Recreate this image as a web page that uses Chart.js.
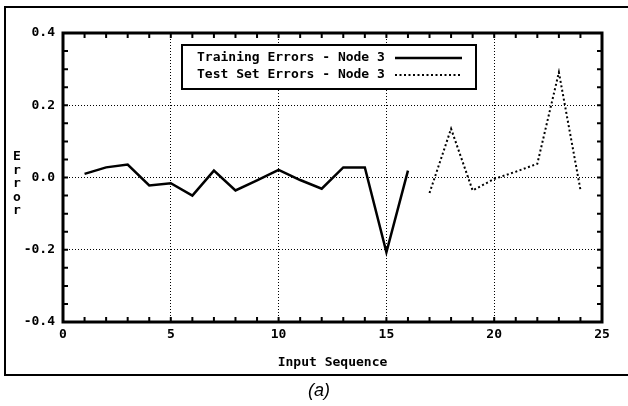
<!DOCTYPE html>
<html>
<head>
<meta charset="utf-8">
<script src="https://cdn.jsdelivr.net/npm/chart.js@4.4.0/dist/chart.umd.min.js"></script>
<style>
  html, body { margin: 0; padding: 0; background: #fff; }
  canvas { display: block; }
</style>
</head>
<body>
<canvas id="myChart" width="628" height="406"></canvas>
<script>
// values
const trainSeq = [1, 2, 3, 4, 5, 6, 7, 8, 9, 10, 11, 12, 13, 14, 15, 16];
const trainErrors = [0.010, 0.028, 0.036, -0.022, -0.016, -0.050, 0.019, -0.036, -0.008, 0.021, -0.007, -0.031, 0.028, 0.028, -0.207, 0.019];
const testSeq = [17, 18, 19, 20, 21, 22, 23, 24];
const testErrors = [-0.043, 0.135, -0.036, -0.004, 0.016, 0.038, 0.291, -0.034];
const xTickLabels = ['0', '5', '10', '15', '20', '25'];
const yTickLabels = ['-0.4', '-0.2', '0.0', '0.2', '0.4'];

const monoFont = { family: 'DejaVu Sans Mono', size: 13, weight: 'bold' };

function toPoints(xs, ys) {
    var pts = [];
    for (var i = 0; i < xs.length; i++) {
        pts.push({ x: xs[i], y: ys[i] });
    }
    return pts;
}

function yIndex(v) {
    var h = Math.round(v * 100);
    if (h % 20 !== 0) return -1;
    return (h + 40) / 20;
}

// white page, outer frame, "(a)" caption, stacked y title
const pagePlugin = {
    id: 'page',
    beforeDraw(chart) {
        var ctx = chart.ctx;
        ctx.save();
        ctx.fillStyle = '#fff';
        ctx.fillRect(0, 0, chart.width, chart.height);
        ctx.restore();
    },
    afterDraw(chart) {
        var ctx = chart.ctx;
        var area = chart.chartArea;
        ctx.save();
        ctx.strokeStyle = '#000';
        ctx.lineWidth = 2;
        ctx.strokeRect(5, 7, 640, 368);

        ctx.lineWidth = 3;
        ctx.strokeRect(area.left, area.top, area.right - area.left, area.bottom - area.top);

        // inward tick marks on all four sides
        ctx.lineWidth = 2;
        ctx.beginPath();
        chart.scales.x.ticks.forEach(function (t) {
            var px = chart.scales.x.getPixelForValue(t.value);
            ctx.moveTo(px, area.bottom);
            ctx.lineTo(px, area.bottom - 5);
            ctx.moveTo(px, area.top);
            ctx.lineTo(px, area.top + 5);
        });
        chart.scales.y.ticks.forEach(function (t) {
            var py = chart.scales.y.getPixelForValue(t.value);
            ctx.moveTo(area.left, py);
            ctx.lineTo(area.left + 5, py);
            ctx.moveTo(area.right, py);
            ctx.lineTo(area.right - 5, py);
        });
        ctx.stroke();

        // y title, letters stacked
        ctx.fillStyle = '#000';
        ctx.font = 'bold 13px "DejaVu Sans Mono"';
        ctx.textAlign = 'center';
        ctx.textBaseline = 'middle';
        var title = 'Error';
        for (var i = 0; i < title.length; i++) {
            ctx.fillText(title[i], 17, 157 + i * 13.5);
        }

        // legend box
        var bx = 182, by = 45, bw = 294, bh = 44;
        ctx.fillStyle = '#fff';
        ctx.fillRect(bx, by, bw, bh);
        ctx.lineWidth = 2;
        ctx.strokeRect(bx, by, bw, bh);
        ctx.textAlign = 'left';
        chart.data.datasets.forEach(function (ds, k) {
            var ly = 58 + k * 17;
            ctx.fillStyle = '#000';
            ctx.fillText(ds.label, 197, ly);
            ctx.beginPath();
            ctx.lineWidth = ds.borderWidth;
            ctx.setLineDash(ds.borderDash || []);
            ctx.moveTo(395, ly);
            ctx.lineTo(462, ly);
            ctx.stroke();
            ctx.setLineDash([]);
        });

        // caption
        ctx.font = 'italic 18px "Liberation Sans"';
        ctx.textAlign = 'center';
        ctx.fillText('(a)', 319, 391);
        ctx.restore();
    }
};

var ctx = document.getElementById('myChart').getContext('2d');
var myChart = new Chart(ctx, {
    type: 'line',
    data: {
        datasets: [{
            label: 'Training Errors - Node 3',
            data: toPoints(trainSeq, trainErrors),
            borderColor: '#000',
            borderWidth: 2.5,
            pointRadius: 0,
            tension: 0,
            fill: false
        }, {
            label: 'Test Set Errors - Node 3',
            data: toPoints(testSeq, testErrors),
            borderColor: '#000',
            borderWidth: 2,
            borderDash: [2, 2.5],
            pointRadius: 0,
            tension: 0,
            fill: false
        }]
    },
    options: {
        responsive: false,
        animation: false,
        layout: { padding: { left: 0, top: 33, right: 26, bottom: 36 } },
        plugins: {
            legend: { display: false },
            tooltip: { enabled: false }
        },
        scales: {
            x: {
                type: 'linear',
                position: 'bottom',
                min: 0,
                max: 25,
                afterFit: function (scale) { scale.height = 48; },
                ticks: {
                    stepSize: 1,
                    autoSkip: false,
                    maxRotation: 0,
                    padding: 5,
                    color: '#000',
                    font: monoFont,
                    callback: function (v) {
                        return v % 5 === 0 ? xTickLabels[v / 5] : '';
                    }
                },
                grid: {
                    drawTicks: false,
                    lineWidth: 1,
                    color: function (c) {
                        var v = c.tick ? c.tick.value : 0;
                        return (v % 5 === 0 && v > 0 && v < 25) ? '#000' : 'rgba(0,0,0,0)';
                    }
                },
                border: { display: false, dash: [1, 2] },
                title: {
                    display: true,
                    text: 'Input Sequence',
                    color: '#000',
                    font: monoFont,
                    padding: 0
                }
            },
            y: {
                type: 'linear',
                position: 'left',
                min: -0.4,
                max: 0.4,
                afterFit: function (scale) { scale.width = 63; },
                ticks: {
                    stepSize: 0.05,
                    autoSkip: false,
                    padding: 8,
                    color: '#000',
                    font: monoFont,
                    callback: function (v) {
                        var i = yIndex(v);
                        return i >= 0 ? yTickLabels[i] : '';
                    }
                },
                grid: {
                    drawTicks: false,
                    lineWidth: 1,
                    color: function (c) {
                        var v = c.tick ? c.tick.value : 0;
                        var i = yIndex(v);
                        return (i > 0 && i < 4) ? '#000' : 'rgba(0,0,0,0)';
                    }
                },
                border: { display: false, dash: [1, 2] }
            }
        }
    },
    plugins: [pagePlugin]
});
</script>
</body>
</html>
